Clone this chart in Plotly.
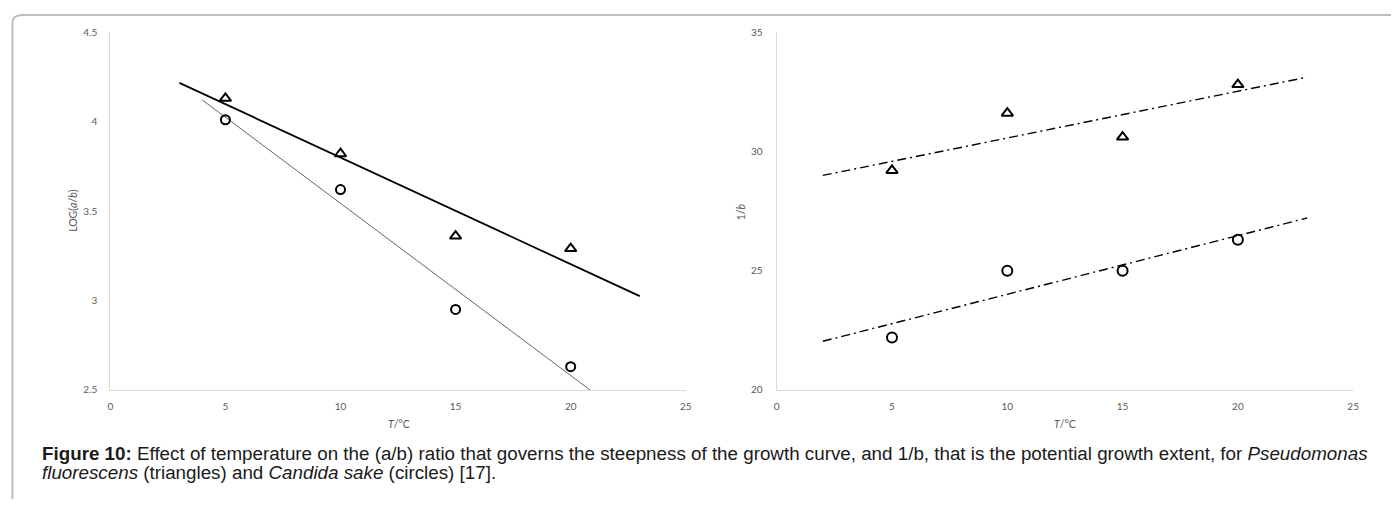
import numpy as np
import plotly.graph_objects as go

# ---- data ----
temps = [5, 10, 15, 20]
log_ab_pseudomonas = [4.13, 3.82, 3.36, 3.29]
log_ab_candida = [4.01, 3.62, 2.95, 2.63]
inv_b_pseudomonas = [29.2, 31.6, 30.6, 32.8]
inv_b_candida = [22.2, 25.0, 25.0, 26.3]

# trendline extents (x from/to)
trend_left_pseudomonas = [3, 23]
trend_left_candida = [4, 23]
trend_right = [2, 23]

x_ticks = [0, 5, 10, 15, 20, 25]
left_y_ticks = [2.5, 3, 3.5, 4, 4.5]
left_y_labels = ["2.5", "3", "3.5", "4", "4.5"]
right_y_ticks = [20, 25, 30, 35]

W, H = 1383, 491

# mapping from target screen pixels to figure pixels (calibrated)
CX, DX = 9.6, 0.9944
CY, DY = 14.0, 0.975


def px(x):
    return ((x - CX) / DX) / W


def py(y):
    return 1 - max((y - CY) / DY, 1.0) / H


def trend(xs, ys, ext):
    k, b = np.polyfit(xs, ys, 1)
    xx = np.array(ext, dtype=float)
    return xx, k * xx + b


fig = go.Figure()

# left panel
xx, yy = trend(temps, log_ab_pseudomonas, trend_left_pseudomonas)
fig.add_trace(go.Scatter(x=xx, y=yy, mode="lines", line=dict(color="black", width=1.8),
                         xaxis="x", yaxis="y", hoverinfo="skip"))
xx, yy = trend(temps, log_ab_candida, trend_left_candida)
fig.add_trace(go.Scatter(x=xx, y=yy, mode="lines", line=dict(color="#666666", width=1),
                         xaxis="x", yaxis="y", hoverinfo="skip"))
fig.add_trace(go.Scatter(x=temps, y=log_ab_pseudomonas, mode="markers",
                         marker=dict(symbol="triangle-up-open", size=10, color="black",
                                     line=dict(width=2, color="black")),
                         xaxis="x", yaxis="y"))
fig.add_trace(go.Scatter(x=temps, y=log_ab_candida, mode="markers",
                         marker=dict(symbol="circle-open", size=9, color="black",
                                     line=dict(width=2, color="black")),
                         xaxis="x", yaxis="y"))

# right panel
dash = "9px,4px,2px,4px"
xx, yy = trend(temps, inv_b_pseudomonas, trend_right)
fig.add_trace(go.Scatter(x=xx, y=yy, mode="lines", line=dict(color="black", width=1.4, dash=dash),
                         xaxis="x2", yaxis="y2", hoverinfo="skip"))
xx, yy = trend(temps, inv_b_candida, trend_right)
fig.add_trace(go.Scatter(x=xx, y=yy, mode="lines", line=dict(color="black", width=1.4, dash=dash),
                         xaxis="x2", yaxis="y2", hoverinfo="skip"))
fig.add_trace(go.Scatter(x=temps, y=inv_b_pseudomonas, mode="markers",
                         marker=dict(symbol="triangle-up-open", size=10, color="black",
                                     line=dict(width=2, color="black")),
                         xaxis="x2", yaxis="y2"))
fig.add_trace(go.Scatter(x=temps, y=inv_b_candida, mode="markers",
                         marker=dict(symbol="circle-open", size=10, color="black",
                                     line=dict(width=2, color="black")),
                         xaxis="x2", yaxis="y2"))

tickfont = dict(family="Lato, Open Sans, sans-serif", size=10, color="#595959")
titlefont = dict(family="Lato, Open Sans, sans-serif", size=10.5, color="#595959")

y_dom = [py(389), py(32)]
common_x = dict(range=[0, 25], tickvals=x_ticks, showgrid=False, zeroline=False,
                showline=True, linecolor="#d9d9d9", linewidth=1.2, ticks="",
                tickfont=tickfont, ticklabelstandoff=7, fixedrange=True)
common_y = dict(showgrid=False, zeroline=False, showline=True, linecolor="#d9d9d9",
                linewidth=1.2, ticks="", tickfont=tickfont, fixedrange=True)

fig.update_layout(
    width=W, height=H,
    margin=dict(l=0, r=0, t=0, b=0),
    paper_bgcolor="white", plot_bgcolor="white",
    showlegend=False,
    xaxis=dict(domain=[px(109), px(685)], anchor="y", **common_x),
    yaxis=dict(domain=y_dom, anchor="x", range=[2.5, 4.5], tickvals=left_y_ticks,
               ticktext=left_y_labels, ticklabelstandoff=10, **common_y),
    xaxis2=dict(domain=[px(776), px(1353)], anchor="y2", **common_x),
    yaxis2=dict(domain=y_dom, anchor="x2", range=[20, 35], tickvals=right_y_ticks,
                ticklabelstandoff=11, **common_y),
)

# axis titles
for txt, x, y, ang in [("<i>T</i>/°C", 398, 423, 0), ("<i>T</i>/°C", 1065, 423, 0),
                       ("LOG(<i>a</i>/<i>b</i>)", 71, 210, -90), ("1/<i>b</i>", 740, 211, -90)]:
    fig.add_annotation(text=txt, xref="paper", yref="paper", x=px(x), y=py(y),
                       xanchor="center", yanchor="middle", textangle=ang,
                       showarrow=False, font=titlefont)

# frame: top edge with rounded corner and left edge
path = (f"M 1.02,{py(13)} L {px(21)},{py(13)} "
        f"Q {px(11)},{py(13)} {px(11)},{py(23)} L {px(11)},-0.05")
fig.add_shape(type="path", path=path, xref="paper", yref="paper",
              line=dict(color="#bdbdbd", width=2))

capfont = dict(family="Liberation Sans, Arial, sans-serif", size=18.8, color="#1a1a1a")
fig.add_annotation(
    text="<b>Figure 10:</b> Effect of temperature on the (a/b) ratio that governs the steepness "
         "of the growth curve, and 1/b, that is the potential growth extent, for <i>Pseudomonas</i>",
    xref="paper", yref="paper", x=px(39), y=py(452), xanchor="left", yanchor="middle",
    showarrow=False, font=capfont)
fig.add_annotation(
    text="<i>fluorescens</i> (triangles) and <i>Candida sake</i> (circles) [17].",
    xref="paper", yref="paper", x=px(39), y=py(471.5), xanchor="left", yanchor="middle",
    showarrow=False, font=capfont)

fig.write_html("out.html")
